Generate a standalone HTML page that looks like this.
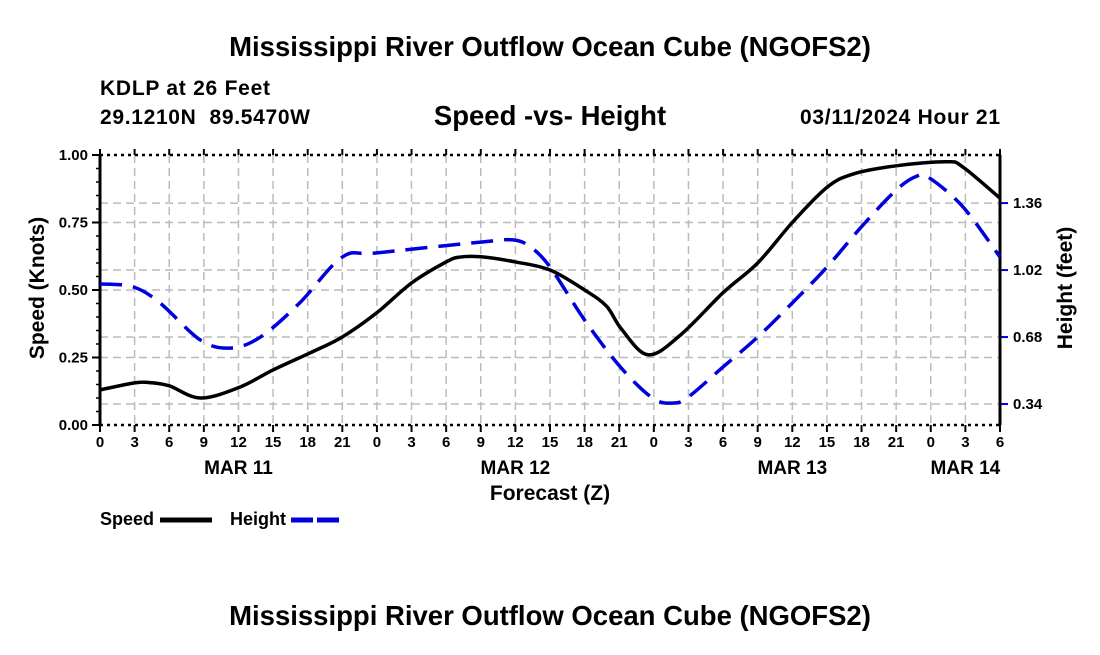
<!DOCTYPE html>
<html><head><meta charset="utf-8"><style>
body{margin:0;background:#fff;}
svg text{font-family:"Liberation Sans",Arial,sans-serif;font-weight:bold;fill:#000;white-space:pre;}
</style></head><body>
<svg id="c" width="1100" height="650" xmlns="http://www.w3.org/2000/svg">
<text x="550" y="56" font-size="27.5" text-anchor="middle">Mississippi River Outflow Ocean Cube (NGOFS2)</text>
<text x="100" y="95" font-size="21" textLength="170">KDLP at 26 Feet</text>
<text x="100" y="124" font-size="21" textLength="210">29.1210N  89.5470W</text>
<text x="550" y="125" font-size="27.5" text-anchor="middle">Speed -vs- Height</text>
<text x="1000" y="124" font-size="21" text-anchor="end" textLength="200">03/11/2024 Hour 21</text>
<g id="grid"></g>
<g id="axes"></g>
<g id="series"></g>
<text transform="translate(44,288) rotate(-90)" font-size="21" text-anchor="middle">Speed (Knots)</text>
<text transform="translate(1072,288) rotate(-90)" font-size="21" text-anchor="middle">Height (feet)</text>
<text x="550" y="500" font-size="21" text-anchor="middle">Forecast (Z)</text>
<g>
<text x="100" y="525" font-size="18">Speed</text>
<line x1="160" y1="520" x2="212" y2="520" stroke="#000" stroke-width="5"/>
<text x="230" y="525" font-size="18">Height</text>
<line x1="291" y1="520" x2="343" y2="520" stroke="#0000dd" stroke-width="5" stroke-dasharray="22,4"/>
</g>
<text x="550" y="625" font-size="27.5" text-anchor="middle">Mississippi River Outflow Ocean Cube (NGOFS2)</text>
</svg>
<script>
const speedHours=[0,3,4.3,6,8.7,12.1,15,18.2,21,24,27,30,31.2,33,36,39,42,43.9,45.2,47.5,50.3,54,57,60,63,65.3,69,73.4,74.8,78];
const speedValues=[0.13,0.156,0.157,0.145,0.10,0.14,0.204,0.267,0.326,0.416,0.526,0.604,0.622,0.623,0.604,0.574,0.50,0.440,0.355,0.26,0.333,0.49,0.60,0.75,0.88,0.93,0.96,0.975,0.955,0.84];
const heightHours=[0,2.9,5.2,8.7,11.3,13.9,17.3,21,24,33,35.8,37.3,39,42,45.1,47.9,49.7,51,54,57,60,63,66,69,70.8,71.9,74.8,78];
const heightValues=[0.95,0.934,0.853,0.665,0.624,0.68,0.853,1.086,1.107,1.162,1.173,1.137,1.036,0.766,0.528,0.37,0.345,0.376,0.528,0.68,0.853,1.035,1.24,1.426,1.497,1.487,1.34,1.086];
const xTickLabels=["0","3","6","9","12","15","18","21","0","3","6","9","12","15","18","21","0","3","6","9","12","15","18","21","0","3","6"];
const dayLabels=["MAR 11","MAR 12","MAR 13","MAR 14"];
const dayLabelHours=[12,36,60,75];
const speedTicks=[0,0.25,0.5,0.75,1.0];
const heightTicks=[0.34,0.68,1.02,1.36];
const X0=100,X1=1000,Y0=425,Y1=155,HMAX=78;
const xs=h=>X0+h/HMAX*(X1-X0);
const ys=v=>Y0-v*(Y0-Y1);
const yh=f=>471-f*197;
const NS="http://www.w3.org/2000/svg";
function mk(p,t,a){const e=document.createElementNS(NS,t);for(const k in a)e.setAttribute(k,a[k]);p.appendChild(e);return e;}
const grid=document.getElementById('grid'),axes=document.getElementById('axes'),ser=document.getElementById('series');
const gs={stroke:"#bbb","stroke-width":1.5,"stroke-dasharray":"8,5"};
xTickLabels.forEach((l,i)=>{const x=xs(i*3);
 if(i>0&&i<xTickLabels.length-1){const g=mk(grid,'line',Object.assign({x1:x,x2:x,y1:Y1,y2:Y0},gs));
 
 }
 const t=mk(axes,'line',{x1:x,x2:x,y1:Y0,y2:Y0+7,stroke:"#000","stroke-width":2});
 
 
 const tt=mk(axes,'line',{x1:x,x2:x,y1:Y1,y2:Y1-6,stroke:"#000","stroke-width":2});
 
 
 const tx=mk(axes,'text',{x:x,y:447,"font-size":15,"text-anchor":"middle"});tx.textContent=l;
 
 
});
dayLabels.forEach((l,i)=>{const t=mk(axes,'text',{x:xs(dayLabelHours[i]),y:474,"font-size":19,"text-anchor":"middle"});t.textContent=l;
 
 });
speedTicks.forEach(v=>{const y=ys(v);
 if(v>0&&v<1){const g=mk(grid,'line',Object.assign({x1:X0,x2:X1,y1:y,y2:y},gs));
 
 }
 const t=mk(axes,'line',{x1:X0-8,x2:X0,y1:y,y2:y,stroke:"#000","stroke-width":2});
 
 
 const tx=mk(axes,'text',{x:X0-12,y:y+5,"font-size":15,"text-anchor":"end"});tx.textContent=v.toFixed(2);
 
 });
for(let k=1;k<20;k++){if(k%5==0)continue;const y=ys(k*0.05);
 const m=mk(axes,'line',{x1:X0-4,x2:X0,y1:y,y2:y,stroke:"#000","stroke-width":1.5});
 
 }
heightTicks.forEach(f=>{const y=yh(f);
 const g=mk(grid,'line',Object.assign({x1:X0,x2:X1,y1:y,y2:y},gs));
 
 
 const t=mk(axes,'line',{x1:X1,x2:X1+8,y1:y,y2:y,stroke:"#0000dd","stroke-width":2});
 
 
 const tx=mk(axes,'text',{x:X1+13,y:y+5,"font-size":15});tx.textContent=f.toFixed(2);
 
 });
[[X0,Y1,X0,Y0,"y-axis-line",""],[X1,Y1,X1,Y0,"y2-axis-line",""],[X0,Y1,X1,Y1,"top-border","3,4"],[X0,Y0,X1,Y0,"x-axis-line","3,4"]].forEach(a=>{
 const l=mk(axes,'line',{x1:a[0],y1:a[1],x2:a[2],y2:a[3],stroke:"#000","stroke-width":a[5]?2.5:3,"stroke-dasharray":a[5]||"none"});
 
 });
function path(pts){let d=`M${pts[0][0]},${pts[0][1]}`;
 for(let i=0;i<pts.length-1;i++){const p0=pts[Math.max(0,i-1)],p1=pts[i],p2=pts[i+1],p3=pts[Math.min(pts.length-1,i+2)];
 d+=` C${p1[0]+(p2[0]-p0[0])/6},${p1[1]+(p2[1]-p0[1])/6} ${p2[0]-(p3[0]-p1[0])/6},${p2[1]-(p3[1]-p1[1])/6} ${p2[0]},${p2[1]}`;}
 return d;}
const hp=mk(ser,'path',{d:path(heightHours.map((h,i)=>[xs(h),yh(heightValues[i])])),fill:"none",stroke:"#0000dd","stroke-width":3.5,"stroke-dasharray":"22,11"});


const sp=mk(ser,'path',{d:path(speedHours.map((h,i)=>[xs(h),ys(speedValues[i])])),fill:"none",stroke:"#000","stroke-width":3.5});


</script>
</body></html>
